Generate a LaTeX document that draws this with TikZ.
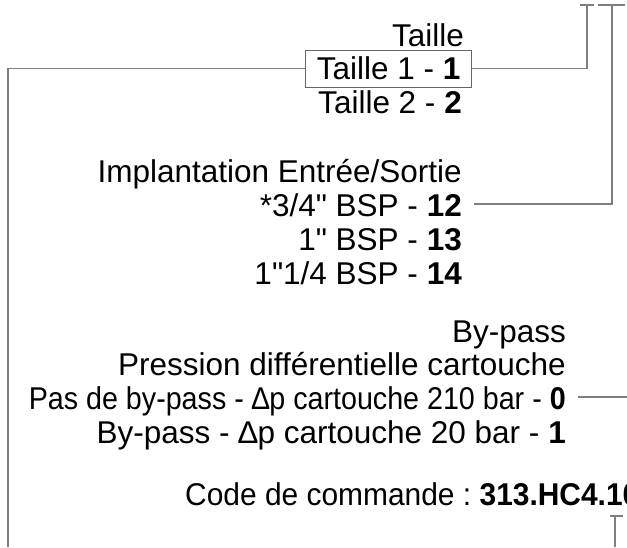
\documentclass[tikz,border=0pt]{standalone}
\usepackage{fontspec}
\setmainfont{Liberation Sans}
\usepackage{graphicx}
\usetikzlibrary{positioning}
\definecolor{trait}{HTML}{7F7F7F}
\definecolor{cadre}{HTML}{666666}
\newcommand\pouce{{\XeTeXglyph\XeTeXglyphindex"quotedbl"\relax}}
\frenchspacing
\tikzset{
  lig/.style={inner sep=0pt, text height=24pt, text depth=0pt, font=\fontsize{31.5}{34}\selectfont, anchor=base east},
  boite/.style={lig, draw=cadre, line width=1pt, inner xsep=11pt, inner ysep=5pt, text depth=3pt},
  fil/.style={draw=trait, line width=1.2pt},
}
\begin{document}
\begin{tikzpicture}[x=1pt,y=-1pt]
  \useasboundingbox (0,0) rectangle (627,547);
  \clip (0,0) rectangle (627,547);

  % taille
  \node[lig] (titre) at (464,46) {Taille};
  \node[boite] (t1) at (472,79) {Taille 1 - \textbf{1}};
  \node[lig] (t2) at (462,113) {Taille 2 - \textbf{2}};
  % implantation
  \node[lig] (impl) at (462,182) {Implantation Entrée/Sortie};
  \node[lig] (d12) at (462,216) {*3/4\pouce{} BSP - \textbf{12}};
  \node[lig] (d13) at (462,250) {1\pouce{} BSP - \textbf{13}};
  \node[lig] (d14) at (462,284) {1\pouce{}1/4 BSP - \textbf{14}};
  % by-pass
  \node[lig] (bp) at (566,342) {By-pass};
  \node[lig] (pdc) at (566,375) {Pression différentielle cartouche};
  \node[lig] (bp0) at (566,409) {\scalebox{0.91}[1]{Pas de by-pass - ∆p cartouche 210 bar - \textbf{0}}};
  \node[lig] (bp1) at (566,443) {By-pass - ∆p cartouche 20 bar - \textbf{1}};
  \node[lig, anchor=base west] (code) at (185,505) {\scalebox{0.95}[1]{Code de commande : \textbf{313.HC4.10}}};

  \coordinate (bas) at (8,547);
  \coordinate (haut1) at (587,5);
  \coordinate (haut2) at (612,5);
  \coordinate (bord) at (627,0);
  \coordinate (repere) at (615,516);

  \draw[fil] (t1.west) -| (bas);
  \draw[fil] (t1.east) -| (haut1);
  \draw[fil, shorten <=12pt] (d12.east) -| (haut2);
  \draw[fil, shorten <=12pt] (bp0.east) -- (bp0.east -| bord);
  \draw[fil] (repere) -- (repere |- bas);
  \foreach \c/\l/\r in {haut1/7/7, haut2/14/13, repere/5/8}
    {\draw[fil] ([xshift=-\l pt]\c) -- ([xshift=\r pt]\c);}
\end{tikzpicture}
\end{document}
